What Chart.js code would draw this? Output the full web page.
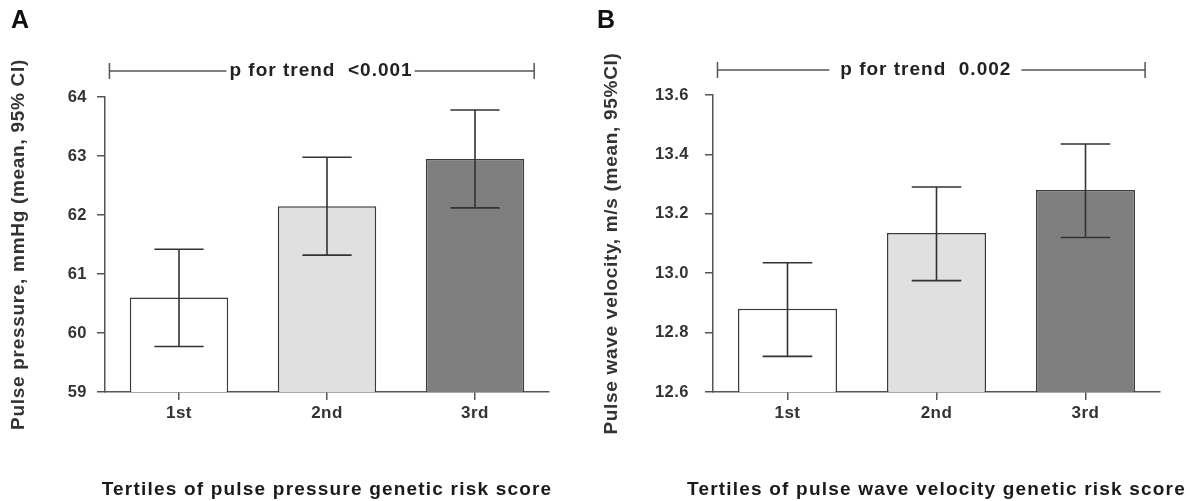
<!DOCTYPE html>
<html>
<head>
<meta charset="utf-8">
<script src="https://cdn.jsdelivr.net/npm/chart.js@4.4.1/dist/chart.umd.min.js"></script>
<style>
  html, body { margin: 0; padding: 0; background: #fff; }
  #wrap { position: relative; width: 1192px; height: 501px; }
  canvas { position: absolute; top: 0; }
  #chartA { left: 0; }
  #chartB { left: 590px; }
</style>
</head>
<body>
<div id="wrap">
  <canvas id="chartA" width="590" height="501"></canvas>
  <canvas id="chartB" width="602" height="501"></canvas>
</div>
<script>
const tertiles = ["1st", "2nd", "3rd"];
const barColors = ["#ffffff", "#e0e0e0", "#7f7f7f"];

// Panel A - pulse pressure (mmHg)
const ppMean = [60.6, 62.15, 62.95];
const ppLow = [59.77, 61.32, 62.12];
const ppHigh = [61.42, 62.98, 63.78];
const ppTicks = [59, 60, 61, 62, 63, 64];

// Panel B - pulse wave velocity (m/s)
const pwvMean = [12.88, 13.135, 13.28];
const pwvLow = [12.72, 12.975, 13.12];
const pwvHigh = [13.035, 13.29, 13.435];
const pwvTicks = [12.6, 12.8, 13.0, 13.2, 13.4, 13.6];

const FONT = '"Liberation Sans", Arial, sans-serif';

// CI whiskers on top of the bars
const errorBars = {
  id: "errorBars",
  afterDatasetsDraw(chart, args, opts) {
    const ctx = chart.ctx;
    const y = chart.scales.y;
    const bars = chart.getDatasetMeta(0).data;
    ctx.save();
    ctx.strokeStyle = "#333";
    ctx.lineWidth = 1.6;
    bars.forEach((bar, i) => {
      const lo = y.getPixelForValue(opts.low[i]);
      const hi = y.getPixelForValue(opts.high[i]);
      const half = bar.width / 4;
      ctx.beginPath();
      ctx.moveTo(bar.x, lo); ctx.lineTo(bar.x, hi);
      ctx.moveTo(bar.x - half, lo); ctx.lineTo(bar.x + half, lo);
      ctx.moveTo(bar.x - half, hi); ctx.lineTo(bar.x + half, hi);
      ctx.stroke();
    });
    ctx.restore();
  }
};

// panel letter, p-for-trend bracket, x title
const decor = {
  id: "decor",
  beforeDraw(chart) {
    // spacing for the y title (drawn with the grid layer)
    chart.ctx.letterSpacing = "0.7px";
  },
  afterDatasetsDraw(chart) {
    // tick labels are drawn after this (ticks.z = 1)
    chart.ctx.letterSpacing = "0.5px";
  },
  afterDraw(chart, args, o) {
    const { ctx, chartArea: area, scales: { x } } = chart;
    const step = x.getPixelForValue(1) - x.getPixelForValue(0);
    ctx.save();

    ctx.letterSpacing = "0px";
    ctx.fillStyle = "#111";
    ctx.font = "bold 25px " + FONT;
    ctx.textAlign = "left";
    ctx.textBaseline = "alphabetic";
    ctx.fillText(o.letter, o.letterX, 28);

    // bracket
    const by = area.top - o.bracketRise;
    const x1 = x.getPixelForValue(0) - 0.47 * step;
    const x2 = x.getPixelForValue(tertiles.length - 1) + 0.4 * step;
    ctx.font = "bold 19px " + FONT;
    ctx.letterSpacing = "1px";
    const tw = ctx.measureText(o.trend).width - 1;
    const tx = x1 + (x2 - x1) * o.trendPos;
    ctx.fillStyle = "#222";
    ctx.fillText(o.trend, tx - tw / 2, by + 5);
    ctx.strokeStyle = "#555";
    ctx.lineWidth = 1.5;
    ctx.beginPath();
    ctx.moveTo(x1, by); ctx.lineTo(tx - tw / 2 - o.gap, by);
    ctx.moveTo(tx + tw / 2 + o.gap, by); ctx.lineTo(x2, by);
    ctx.moveTo(x1, by - 8); ctx.lineTo(x1, by + 8);
    ctx.moveTo(x2, by - 8); ctx.lineTo(x2, by + 8);
    ctx.stroke();

    // x axis title
    ctx.letterSpacing = "1.2px";
    ctx.fillStyle = "#1a1a1a";
    ctx.textAlign = "center";
    ctx.fillText(o.xTitle, (area.left + area.right) / 2, 495);
    ctx.restore();
  }
};

function makeChart(id, p) {
  return new Chart(document.getElementById(id), {
    type: "bar",
    data: {
      labels: tertiles,
      datasets: [{
        data: p.mean,
        backgroundColor: barColors,
        borderColor: "#3a3a3a",
        borderWidth: 1.5,
        categoryPercentage: 1,
        barPercentage: 0.665
      }]
    },
    options: {
      responsive: false,
      animation: false,
      devicePixelRatio: 1,
      layout: { padding: { left: 0, right: p.padRight, top: p.top, bottom: 79 } },
      plugins: {
        legend: { display: false },
        tooltip: { enabled: false },
        errorBars: { low: p.low, high: p.high },
        decor: p.decor
      },
      scales: {
        x: {
          afterFit: (s) => { s.height = 30; },
          grid: { offset: false, drawOnChartArea: false, tickLength: 8, color: "#555", lineWidth: 1.5 },
          border: { color: "#555", width: 1.5 },
          ticks: { z: 1, color: "#333", padding: 3, font: { family: FONT, size: 17, weight: "bold" } }
        },
        y: {
          min: p.ticks[0],
          max: p.ticks[p.ticks.length - 1],
          afterFit: (s) => { s.width = p.yWidth; },
          afterBuildTicks: (s) => { s.ticks = p.ticks.map(v => ({ value: v })); },
          grid: { drawOnChartArea: false, tickLength: 8, color: "#555", lineWidth: 1.5 },
          border: { color: "#555", width: 1.5 },
          ticks: {
            z: 1,
            color: "#333",
            padding: p.tickPad,
            font: { family: FONT, size: 16.5, weight: "bold" },
            callback: (v) => v.toFixed(p.decimals)
          },
          title: {
            display: true,
            text: p.yTitle,
            color: "#333",
            padding: { top: p.titlePad, bottom: 0 },
            font: { family: FONT, size: 19, weight: "bold" }
          }
        }
      }
    },
    plugins: [errorBars, decor]
  });
}

makeChart("chartA", {
  mean: ppMean, low: ppLow, high: ppHigh, ticks: ppTicks, decimals: 0,
  top: 97, padRight: 41, yWidth: 105, tickPad: 10, titlePad: 7,
  yTitle: "Pulse pressure, mmHg (mean, 95% CI)",
  decor: {
    letter: "A", letterX: 11, bracketRise: 26, trendPos: 0.497, gap: 3,
    trend: "p for trend  <0.001",
    xTitle: "Tertiles of pulse pressure genetic risk score"
  }
});

makeChart("chartB", {
  mean: pwvMean, low: pwvLow, high: pwvHigh, ticks: pwvTicks, decimals: 1,
  top: 95, padRight: 32, yWidth: 123, tickPad: 16, titlePad: 10,
  yTitle: "Pulse wave velocity, m/s (mean, 95%CI)",
  decor: {
    letter: "B", letterX: 7, bracketRise: 25, trendPos: 0.486, gap: 11,
    trend: "p for trend  0.002",
    xTitle: "Tertiles of pulse wave velocity genetic risk score"
  }
});
</script>
</body>
</html>
